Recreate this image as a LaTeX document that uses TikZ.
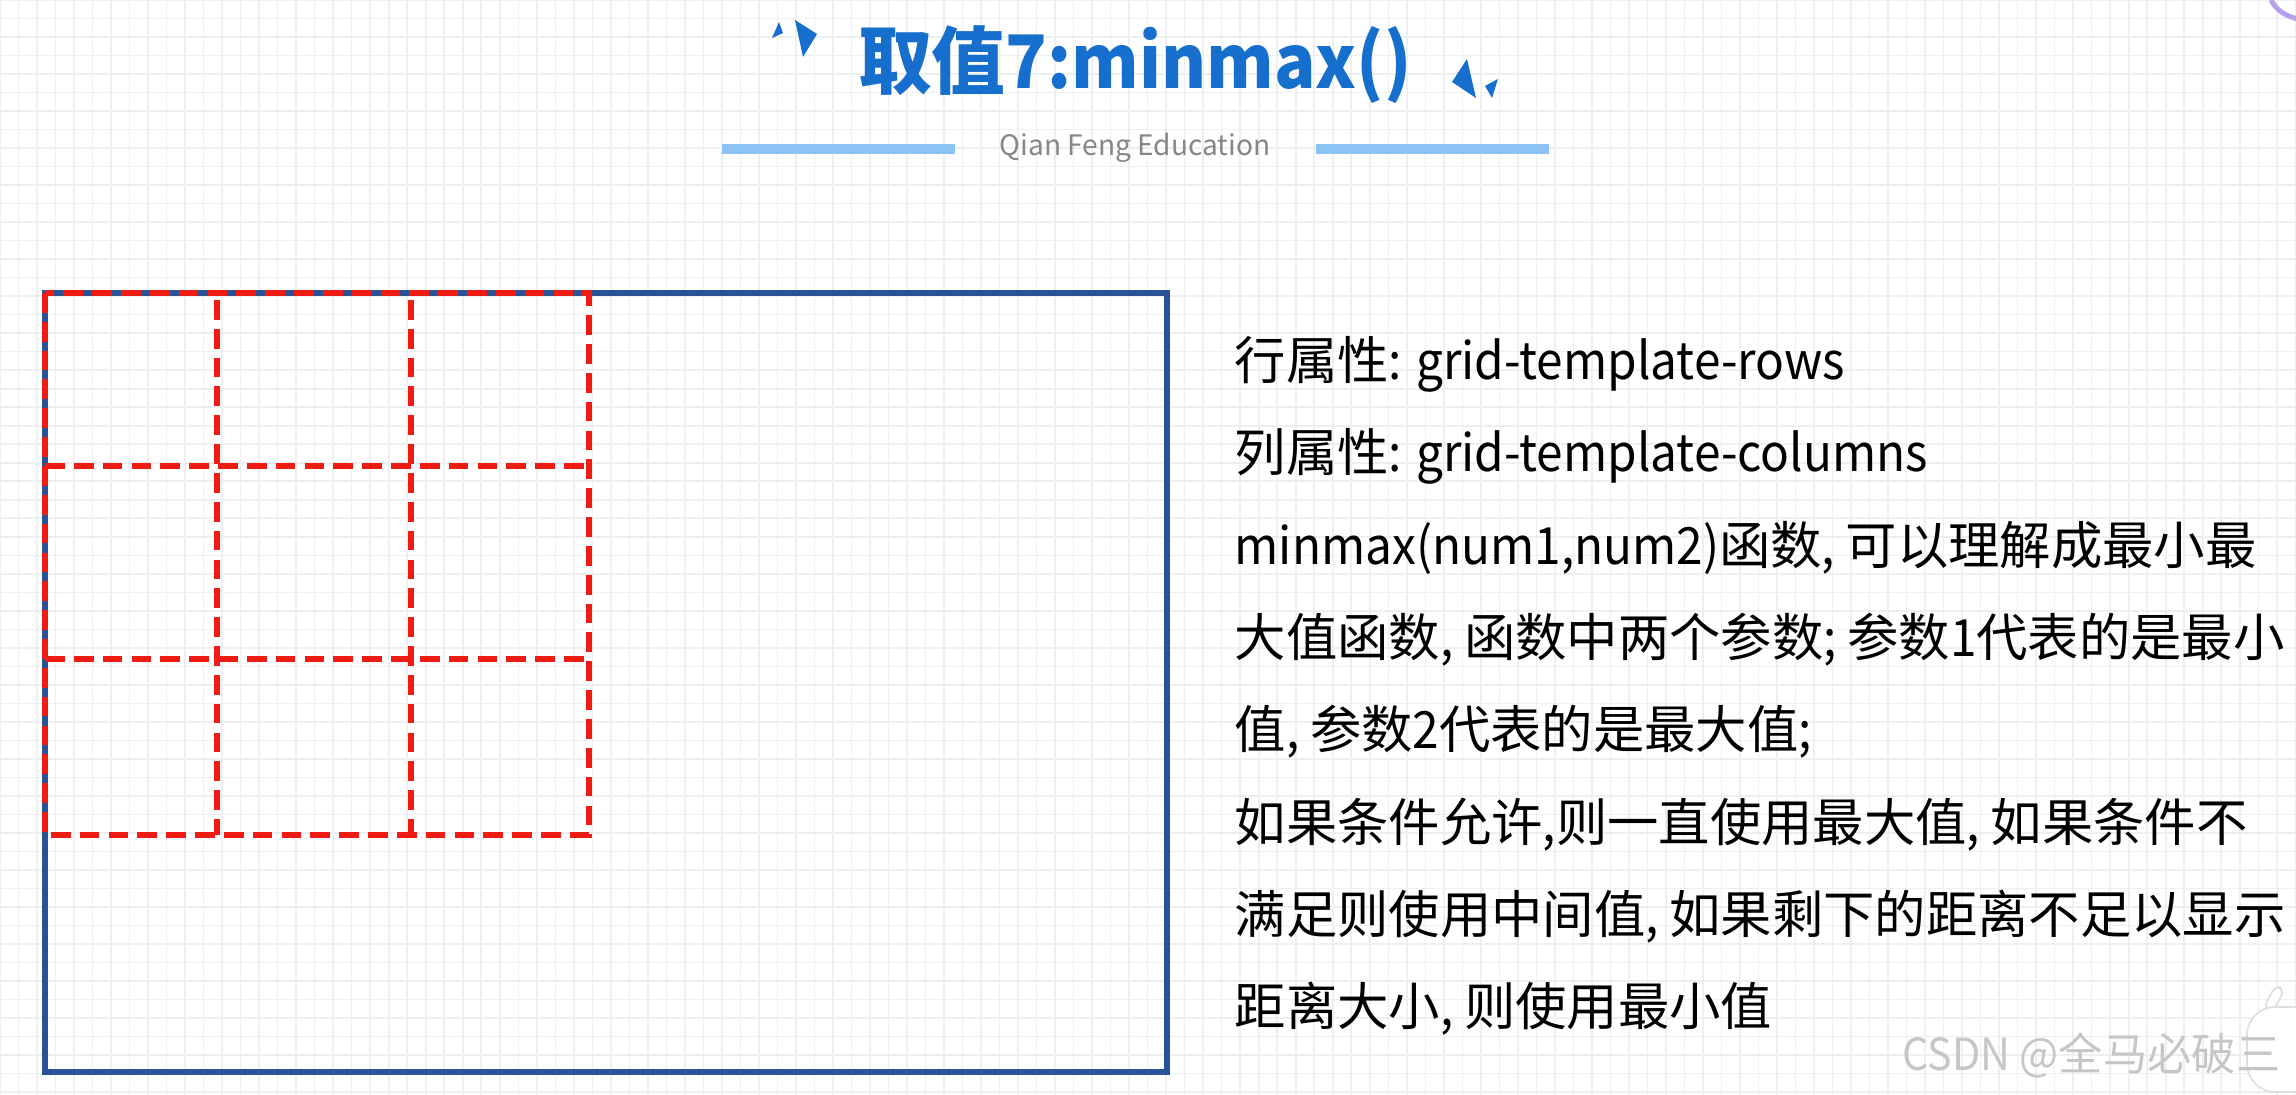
\documentclass[tikz,border=0pt]{standalone}
\usepackage{fontspec}
\usepackage{xcolor}
\usepackage{tikz}
\usetikzlibrary{positioning}
\setmainfont{Noto Sans CJK SC}
\newfontfamily\cjk{Noto Sans CJK SC}
\newfontfamily\narrowlatin{Noto Sans CJK SC}[FakeStretch=0.93]
\newcommand\lat[1]{{\narrowlatin #1}}
\definecolor{titleblue}{RGB}{22,110,205}
\definecolor{barblue}{RGB}{140,195,245}
\definecolor{boxblue}{RGB}{42,82,150}
\definecolor{cellred}{RGB}{238,28,18}
\definecolor{papergrid}{RGB}{237,239,241}
\definecolor{brandgray}{RGB}{135,135,135}
\definecolor{marksilver}{RGB}{198,198,198}
\definecolor{ringviolet}{RGB}{180,160,235}

\begin{document}
\begin{tikzpicture}[
  x=0.01cm, y=-0.01cm,
  headline/.style={font=\cjk\bfseries\fontsize{21}{24}\selectfont, text=titleblue, inner sep=0pt},
  brand/.style={font=\cjk\fontsize{8}{10}\selectfont, text=brandgray, inner sep=0pt},
  deco/.style={fill=titleblue},
  bar/.style={barblue, line width=2.6pt},
  container/.style={draw=boxblue, line width=1.8pt},
  cellline/.style={cellred, line width=1.7pt, dash pattern=on 5.6pt off 2.6pt},
  note/.style={font=\cjk\fontsize{14.6}{18}\selectfont, anchor=base west, inner sep=0pt},
  watermark/.style={font=\cjk\fontsize{12.6}{15}\selectfont, text=marksilver, anchor=base west, inner sep=0pt}
]
\useasboundingbox (0,0) rectangle (2296,1095);

% --- Paper ---
\fill[white] (0,0) rectangle (2296,1095);
\draw[papergrid, line width=0.45pt, step=0.185cm] (0,1095) grid (2296,0);

% --- Heading ---
\node[headline, anchor=base] (heading) at (1135,89) {取值\lat{\bfseries 7:minmax()}};
\node[brand] (school) at (1135,148) {Qian Feng Education};
\draw[bar] (722,149) -- (955,149);
\draw[bar] (1316,149) -- (1549,149);

\fill[deco] (772,38) -- (779,22) -- (783,33) -- cycle;
\fill[deco] (795,20) -- (817,34) -- (803,57) -- cycle;
\fill[deco] (1452,82) -- (1467,59) -- (1476,98) -- cycle;
\fill[deco] (1485,86) -- (1498,79) -- (1492,98) -- cycle;

% --- Grid container ---
\draw[container] (45,293) rectangle (1167,1072);
\draw[cellline] (45,293) rectangle (589,835);
\draw[cellline] (217,300) -- (217,835);
\draw[cellline] (411,300) -- (411,835);
\draw[cellline] (45,466) -- (589,466);
\draw[cellline] (45,659) -- (589,659);

% --- Notes ---
\node[note] (rows) at (1234,380) {行属性\lat{: grid-template-rows}};
\node[note] (cols) at (1234,472) {列属性\lat{: grid-template-columns}};
\node[note] (fn1) at (1234,565) {\lat{minmax(num1,num2)}函数\lat{, }可以理解成最小最};
\node[note] (fn2) at (1234,657) {大值函数\lat{, }函数中两个参数\lat{; }参数\lat{1}代表的是最小};
\node[note] (fn3) at (1234,749) {值\lat{, }参数\lat{2}代表的是最大值\lat{;}};
\node[note] (rule1) at (1234,842) {如果条件允许\lat{,}则一直使用最大值\lat{, }如果条件不};
\node[note] (rule2) at (1234,934) {满足则使用中间值\lat{, }如果剩下的距离不足以显示};
\node[note] (rule3) at (1234,1026) {距离大小\lat{, }则使用最小值};

% --- Screen overlay ---
\draw[fill=white, draw=gray!25, line width=0.5pt, rotate around={-28:(2274,999)}, rounded corners=2pt]
  (2269,986) rectangle (2279,1012);
\draw[fill=white, draw=gray!25, line width=0.5pt, rounded corners=8pt] (2247,1007) rectangle (2320,1092);
\node[watermark] (mark) at (1902,1071) {\lat{CSDN @}全马必破三};
\draw[ringviolet, line width=1.4pt] (2271,0) .. controls (2276,10) and (2285,16) .. (2298,19);

\end{tikzpicture}
\end{document}
